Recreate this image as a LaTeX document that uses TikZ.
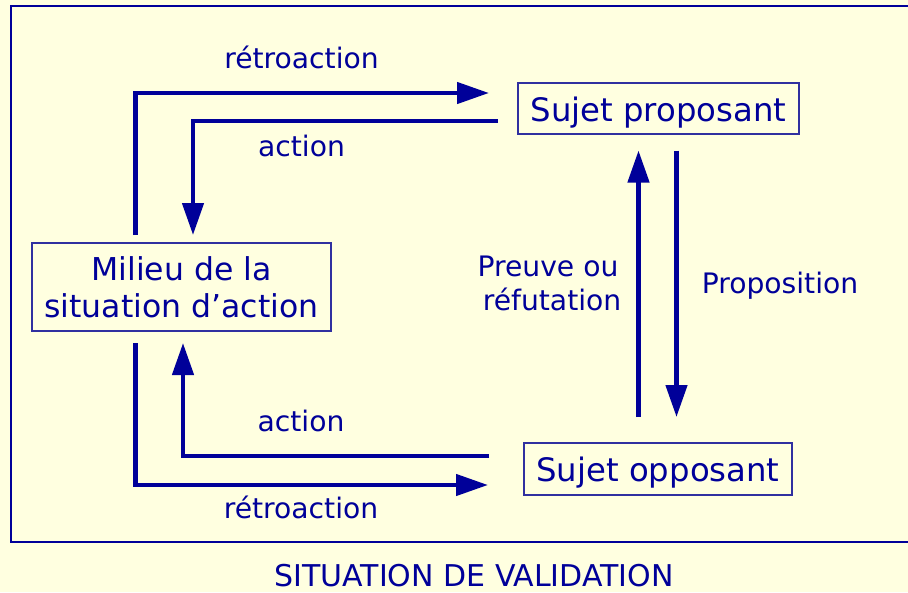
\documentclass[tikz,border=0pt]{standalone}
\usepackage{fontspec}
\setmainfont{DejaVu Sans}
\usetikzlibrary{arrows.meta}
\definecolor{dblue}{HTML}{000099}
\definecolor{bgyellow}{HTML}{FFFFE0}
\definecolor{boxblue}{HTML}{3030A0}
\begin{document}
\begin{tikzpicture}[x=1pt,y=-1pt,
  flow/.style={draw=dblue, line width=4.5pt, -{Triangle[length=32pt,width=21pt]}},
  boxnode/.style={draw=boxblue, line width=1.3pt, fill=bgyellow, text=dblue, inner sep=0pt, font=\fontsize{32.3}{37.3}\selectfont},
  lbl/.style={text=dblue, anchor=base, inner sep=0pt, font=\fontsize{28.2}{33}\selectfont}]
\useasboundingbox (0,0) rectangle (908,592);
\fill[bgyellow] (0,0) rectangle (908,592);
\draw[dblue, line width=2.6pt] (11,6) rectangle (930,542);

% boxes
\node[boxnode, minimum width=281pt, minimum height=51pt, text height=26.4pt, text depth=0pt] (sp) at (658.5,108.5) {Sujet proposant};
\node[boxnode, minimum width=268pt, minimum height=52pt, text height=25.4pt, text depth=0pt] (so) at (658,469) {Sujet opposant};
\node[boxnode, minimum width=299pt, minimum height=88pt, align=center, font=\fontsize{31.5}{37.3}\selectfont] (mil) at (181.5,287) {Milieu de la\\situation d’action};

% labels
\node[lbl] (r1) at (301.5,68.3) {rétroaction};
\node[lbl] (a1) at (301.5,156) {action};
\node[lbl] (a2) at (301,431.7) {action};
\node[lbl] (r2) at (301,518) {rétroaction};
\node[lbl] (pr1) at (548,276.7) {Preuve ou};
\node[lbl] (pr2) at (552,310.7) {réfutation};
\node[lbl] (prop) at (780,293.3) {Proposition};
\node[lbl, font=\fontsize{30}{36}\selectfont] (title) at (474,586) {SITUATION DE VALIDATION};

% connector ends
\coordinate (r1s) at (135.5,235);
\coordinate (r1e) at (489,93);
\coordinate (a1s) at (498,121);
\coordinate (a1e) at (193,235);
\coordinate (a2s) at (489,456);
\coordinate (a2e) at (183,343);
\coordinate (r2s) at (135.5,343);
\coordinate (r2e) at (488,485);
\coordinate (p1s) at (638.5,417);
\coordinate (p1e) at (638.5,150.5);
\coordinate (p2s) at (676.5,150.5);
\coordinate (p2e) at (676.5,417);

\draw[flow] (r1s) |- (r1e);
\draw[flow] (a1s) -| (a1e);
\draw[flow] (a2s) -| (a2e);
\draw[flow] (r2s) |- (r2e);
\draw[flow] (p1s) -- (p1e);
\draw[flow] (p2s) -- (p2e);
\end{tikzpicture}
\end{document}
